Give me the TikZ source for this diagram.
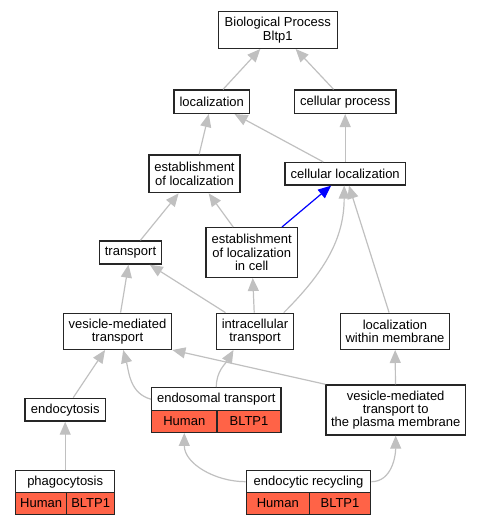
\documentclass[tikz,border=0pt]{standalone}
\usepackage{fontspec}
\setmainfont{Liberation Sans}
\usepackage{tikz}
\usetikzlibrary{arrows.meta}
\definecolor{tomato}{RGB}{255,99,71}
\definecolor{edgegray}{RGB}{192,192,192}
\tikzset{term/.style = {draw=black!85, line width=1.4pt, fill=white, inner sep=0,
                        align=center, font=\fontsize{13}{13.3}\selectfont}}
\tikzset{cell/.style = {term, fill=tomato}}
\tikzset{isa/.style = {draw=edgegray, line width=1.2pt,
                       -{Triangle[length=13pt, width=11pt]}}}
\tikzset{partof/.style = {isa, draw=blue}}

\begin{document}
\begin{tikzpicture}[x=1pt, y=1pt]
    \useasboundingbox (0, 0) rectangle (481, 525);

    \node [term, minimum width=119pt, minimum height=36.6pt] (bp) at (277.8, 495) {Biological Process\\Bltp1};
    \node [term, minimum width=75.3pt, minimum height=23.3pt] (loc) at (211.7, 423.3) {localization};
    \node [term, minimum width=101.7pt, minimum height=23.3pt] (cproc) at (345.2, 423.3) {cellular process};
    \node [term, minimum width=91pt, minimum height=37.7pt] (estloc) at (194.5, 351.2) {establishment\\of localization};
    \node [term, minimum width=120.3pt, minimum height=22.3pt] (cloc) at (345.2, 351.2) {cellular localization};
    \node [term, minimum width=62pt, minimum height=23pt] (transp) at (130.5, 272.5) {transport};
    \node [term, minimum width=91.3pt, minimum height=49.6pt] (estcell) at (251.7, 272.5) {establishment\\of localization\\in cell};
    \node [term, minimum width=108.3pt, minimum height=36pt] (vesic) at (117.5, 193.7) {vesicle-mediated\\transport};
    \node [term, minimum width=76.7pt, minimum height=36pt] (intra) at (255, 193.7) {intracellular\\transport};
    \node [term, minimum width=108.7pt, minimum height=36pt] (locmem) at (395, 193.7) {localization\\within membrane};
    \node [term, minimum width=80.3pt, minimum height=22.7pt] (endocyt) at (65.2, 115.3) {endocytosis};
    \node [term, minimum width=139.3pt, minimum height=50pt] (vesicpm) at (395.7, 115) {vesicle-mediated\\transport to\\the plasma membrane};

    % annotated terms
    \node [term, minimum width=129.3pt, minimum height=23pt] (endos) at (216.3, 125.8) {endosomal transport};
    \node [cell, minimum width=65.3pt, minimum height=21.6pt] (endoshum) at (184.3, 103.5) {Human};
    \node [cell, minimum width=64pt, minimum height=21.6pt] (endosgene) at (249, 103.5) {BLTP1};

    \node [term, minimum width=99pt, minimum height=22pt] (phago) at (65.2, 43.3) {phagocytosis};
    \node [cell, minimum width=51pt, minimum height=21.6pt] (phagohum) at (41.2, 21.5) {Human};
    \node [cell, minimum width=48pt, minimum height=21.6pt] (phagogene) at (90.7, 21.5) {BLTP1};

    \node [term, minimum width=124.4pt, minimum height=22pt] (endrec) at (308.5, 43.3) {endocytic recycling};
    \node [cell, minimum width=63pt, minimum height=21.6pt] (endrechum) at (277.8, 21.5) {Human};
    \node [cell, minimum width=61.4pt, minimum height=21.6pt] (endrecgene) at (340, 21.5) {BLTP1};

    \draw [isa] (loc) -- (bp);
    \draw [isa] (cproc) -- (bp);
    \draw [isa] (estloc) -- (loc);
    \draw [isa] (cloc) -- (loc);
    \draw [isa] (cloc) -- (cproc);
    \draw [isa] (transp) -- (estloc);
    \draw [isa] (estcell) -- (estloc);
    \draw [partof] (estcell) -- (cloc);
    \draw [isa] (vesic) -- (transp);
    \draw [isa] (intra) -- (transp);
    \draw [isa] (intra) -- (estcell);
    \draw [isa] (intra.33) to[out=45, in=-90] (cloc.-95);
    \draw [isa] (locmem) -- (cloc);
    \draw [isa] (endocyt) -- (vesic);
    \draw [isa] (endos.west) to[out=165, in=-75] (vesic.-73);
    \draw [isa] (endos.north) to[out=90, in=-120] (intra.-139);
    \draw [isa] (vesicpm.north west) -- (vesic.south east);
    \draw [isa] (vesicpm) -- (locmem);
    \draw [isa] (phago) -- (endocyt);
    \draw [isa] (endrec.west) to[out=180, in=-90] (endoshum.south);
    \draw [isa] (endrec.east) to[out=0, in=-90] (vesicpm.south);
\end{tikzpicture}
\end{document}
